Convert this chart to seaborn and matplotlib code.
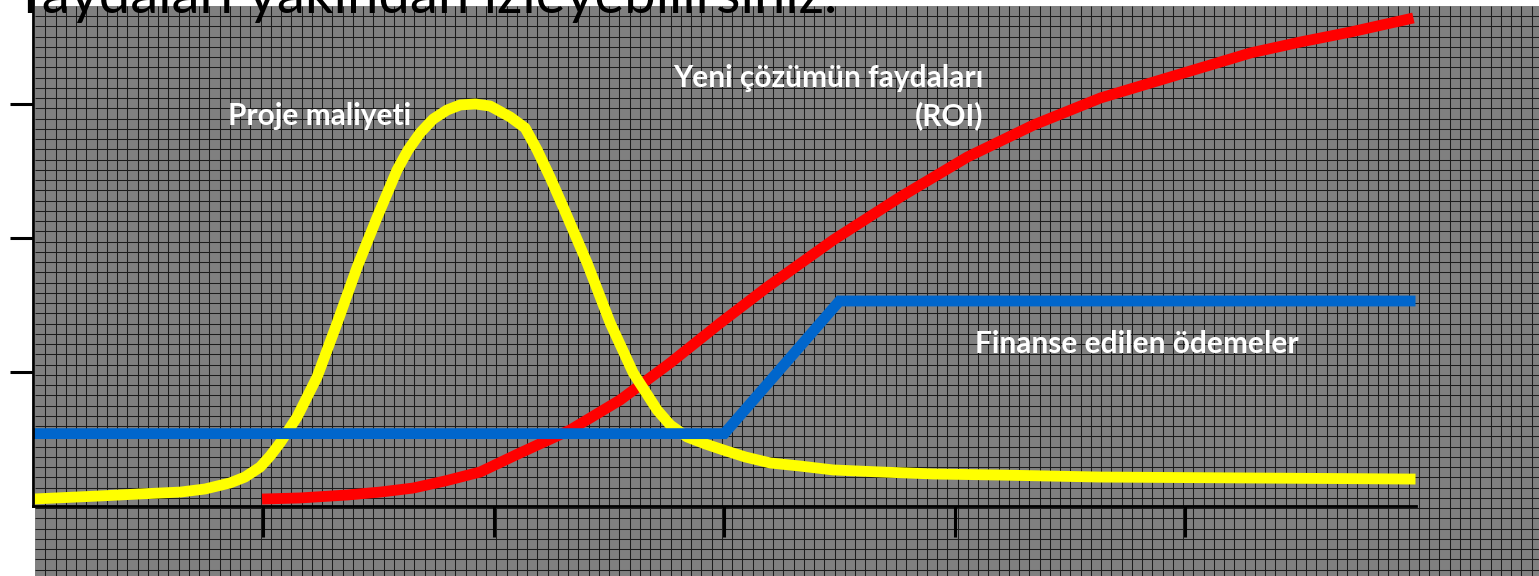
import numpy as np
import matplotlib
matplotlib.use("Agg")
import matplotlib.pyplot as plt
import seaborn as sns

# ---------------- data ----------------
cost_x = [0.00, 0.29, 0.465, 0.64, 0.747, 0.855, 0.920, 0.986, 1.029, 1.072, 1.146, 1.233,
          1.320, 1.407, 1.494, 1.580, 1.628, 1.680, 1.737, 1.797, 1.854, 1.919, 1.984,
          2.071, 2.136, 2.188, 2.245, 2.301, 2.405, 2.505, 2.605, 2.709, 2.766, 2.839,
          2.918, 2.996, 3.091, 3.200, 3.330, 3.473, 3.677, 3.907, 4.198, 4.632, 5.284, 6.00]
cost_y = [0.052, 0.075, 0.090, 0.104, 0.127, 0.172, 0.216, 0.291, 0.373, 0.470, 0.664, 0.963,
          1.366, 1.784, 2.157, 2.507, 2.657, 2.784, 2.888, 2.955, 2.993, 3.000, 2.985,
          2.903, 2.821, 2.657, 2.450, 2.231, 1.813, 1.366, 0.993, 0.716, 0.604, 0.515,
          0.463, 0.418, 0.366, 0.321, 0.298, 0.269, 0.254, 0.239, 0.231, 0.216, 0.209, 0.201]

roi_x = [0.994, 1.159, 1.363, 1.507, 1.650, 1.789, 1.941, 2.114, 2.331, 2.548, 2.765, 2.983,
         3.187, 3.473, 3.764, 4.055, 4.342, 4.633, 4.850, 5.067, 5.284, 5.501, 5.718, 5.991]
roi_y = [0.052, 0.060, 0.082, 0.104, 0.134, 0.187, 0.254, 0.396, 0.567, 0.791, 1.067, 1.366,
         1.634, 1.985, 2.306, 2.604, 2.843, 3.045, 3.157, 3.269, 3.381, 3.463, 3.537, 3.642]

pay_x = [0.0, 3.0, 3.5, 6.0]
pay_y = [0.54, 0.54, 1.53, 1.53]

x_ticks = [1, 2, 3, 4, 5]
y_ticks = [1, 2, 3]

title_text = "faydaları yakından izleyebilirsiniz."
label_cost = "Proje maliyeti"
label_roi_1 = "Yeni çözümün faydaları"
label_roi_2 = "(ROI)"
label_pay = "Finanse edilen ödemeler"

# ---------------- figure ----------------
sns.set_style("white")
plt.rcParams['font.family'] = ['Lato', 'DejaVu Sans']

W, H = 1539, 576
fig = plt.figure(figsize=(W / 100, H / 100), dpi=100)
fig.patch.set_facecolor('white')

# patterned grey background with grid
bg = fig.add_axes([35 / W, 0, 1 - 35 / W, 570.25 / H])
bg.set_facecolor('#808080')
bg.set_xlim(0, 1504)
bg.set_ylim(570.25, 0)
bg.vlines(np.arange(10.25, 1504, 10.25), 0, 570.25, colors='#1c1c1c', lw=0.75)
bg.hlines(np.arange(10.25, 570.25, 10.25), 0, 1504, colors='#1c1c1c', lw=0.75)
bg.set_xticks([])
bg.set_yticks([])
for s in bg.spines.values():
    s.set_visible(False)

# main axes
ax = fig.add_axes([33 / W, (H - 506) / H, (1415.5 - 33) / W, 506 / H])
ax.patch.set_alpha(0)

lw = 7.8
sns.lineplot(x=roi_x, y=roi_y, ax=ax, color='#FF0000', lw=lw, solid_capstyle='butt')
sns.lineplot(x=cost_x, y=cost_y, ax=ax, color='#FFFF00', lw=lw, solid_capstyle='butt')
sns.lineplot(x=pay_x, y=pay_y, ax=ax, color='#0066CC', lw=lw, solid_capstyle='butt',
             solid_joinstyle='miter')

ax.set_xlim(0, 6)
ax.set_ylim(0, 506 / 134)
ax.set_xticks(x_ticks)
ax.set_yticks(y_ticks)
ax.set_xticklabels([])
ax.set_yticklabels([])
ax.set_xlabel('')
ax.set_ylabel('')
ax.tick_params(axis='x', direction='out', length=22, width=2.2, color='black', bottom=True)
ax.tick_params(axis='y', direction='out', length=16.5, width=2.2, color='black', left=True)
for side in ['top', 'right']:
    ax.spines[side].set_visible(False)
for side in ['left', 'bottom']:
    ax.spines[side].set_color('black')
    ax.spines[side].set_linewidth(2.0)
ax.spines['left'].set_zorder(5)

# labels
fs = 21.5
ax.text(1.242, 2.843, label_cost, ha='center', va='baseline', color='white',
        fontsize=fs, fontweight='bold')
ax.text(4.125, 3.127, label_roi_1, ha='right', va='baseline', color='white',
        fontsize=fs, fontweight='bold')
ax.text(4.125, 2.843, label_roi_2, ha='right', va='baseline', color='white',
        fontsize=fs, fontweight='bold')
ax.text(4.09, 1.142, label_pay, ha='left', va='baseline', color='white',
        fontsize=fs, fontweight='bold')

fig.text(22 / W, 1 - 13 / H, title_text, ha='left', va='baseline', color='black',
         fontsize=40.5, zorder=10)

fig.savefig('out.png', dpi=100)
